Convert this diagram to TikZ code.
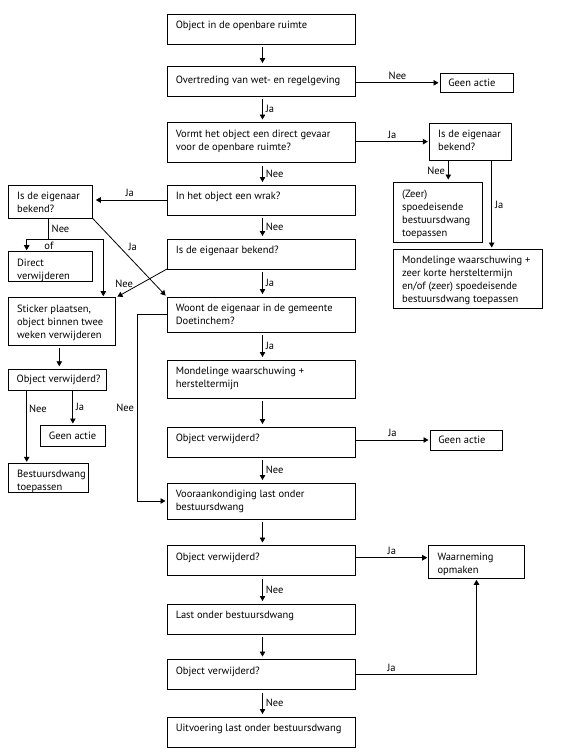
\documentclass[tikz,border=0pt]{standalone}
\usepackage{fontspec}
\setmainfont{PT Sans}
\usetikzlibrary{arrows.meta}
\newcommand\tb[4][14.5]{\parbox[c][#3pt][t]{#2pt}{\raggedright\leftskip=8.8pt\baselineskip=13pt\rule{0pt}{#1pt}#4\par}}
\newcommand\sbx[3]{\parbox[c][#2pt][c]{#1pt}{\raggedright\leftskip=8.3pt #3\par}}
\begin{document}
\begin{tikzpicture}[x=1pt,y=-1pt,font=\fontsize{10.5}{13}\selectfont,
  box/.style={draw,line width=0.8pt,anchor=north west,inner sep=0pt,outer sep=0pt},
  arr/.style={line width=0.8pt,-{Triangle[width=5.5pt,length=5pt]}},
  ln/.style={line width=0.8pt},
  vgap/.style={shorten <=3pt,shorten >=3pt},
  hgap/.style={shorten >=1.5pt},
  lab/.style={inner sep=3pt}]
\fill[white] (0,0) rectangle (566,756);
\useasboundingbox (0,0) rectangle (566,756);
% main column
\node[box] (b1) at (167,14) {\tb{188}{30}{Object in de openbare ruimte}};
\node[box] (b2) at (167,66) {\tb[17]{188}{30}{Overtreding van wet- en regelgeving}};
\node[box] (b3) at (167,122.5) {\tb{188}{40}{Vormt het object een direct gevaar\\voor de openbare ruimte?}};
\node[box] (b4) at (167,185) {\tb{188}{30}{In het object een wrak?}};
\node[box] (b5) at (167,239) {\tb{188}{30}{Is de eigenaar bekend?}};
\node[box] (b6) at (167,297) {\tb{188}{35}{Woont de eigenaar in de gemeente\\Doetinchem?}};
\node[box] (b7) at (167,360) {\tb{188}{38}{Mondelinge waarschuwing +\\hersteltermijn}};
\node[box] (b8) at (167,427) {\tb{188}{30}{Object verwijderd?}};
\node[box] (b9) at (167,483) {\tb{188}{36}{Vooraankondiging last onder\\bestuursdwang}};
\node[box] (b10) at (167,545.5) {\tb{188}{30}{Object verwijderd?}};
\node[box] (b11) at (167,604) {\tb{188}{30}{Last onder bestuursdwang}};
\node[box] (b12) at (167,659.5) {\tb{188}{30}{Object verwijderd?}};
\node[box] (b13) at (167,717) {\tb{188}{30}{Uitvoering last onder bestuursdwang}};
% right side
\node[box] (g1) at (440,73.3) {\sbx{73}{19}{Geen actie}};
\node[box] (r1) at (429.3,123.3) {\tb{82.4}{36.7}{Is de eigenaar\\bekend?}};
\node[box] (z) at (393.3,182.5) {\tb{89.4}{60}{(Zeer)\\spoedeisende\\bestuursdwang\\toepassen}};
\node[box] (m2) at (393.3,249) {\tb{149.5}{59}{Mondelinge waarschuwing +\\zeer korte hersteltermijn\\en/of (zeer) spoedeisende\\bestuursdwang toepassen}};
\node[box] (ga3) at (430,430) {\sbx{72}{20}{Geen actie}};
\node[box] (w) at (428.7,545.7) {\tb{95.6}{32.6}{Waarneming\\opmaken}};
% left side
\node[box] (l1) at (8.3,185) {\tb{84}{33}{Is de eigenaar\\bekend?}};
\node[box] (d) at (8.3,251.7) {\tb{84}{30}{Direct\\verwijderen}};
\node[box] (s) at (8.3,297.7) {\tb{107.4}{47.3}{Sticker plaatsen,\\object binnen twee\\weken verwijderen}};
\node[box] (lo) at (8.3,369.3) {\sbx{98.4}{20.7}{Object verwijderd?}};
\node[box] (ga2) at (40.7,425) {\sbx{64.3}{21}{Geen actie}};
\node[box] (bd) at (8.3,463.3) {\tb{80}{29.4}{Bestuursdwang\\toepassen}};
% main arrows
\draw[arr,vgap] ([xshift=1.5pt]b1.south) -- ([xshift=1.5pt]b2.north);
\draw[arr,vgap] ([xshift=1.5pt]b2.south) -- node[right,lab]{Ja} ([xshift=1.5pt]b3.north);
\draw[arr,vgap] ([xshift=1.5pt]b3.south) -- node[right,lab]{Nee} ([xshift=1.5pt]b4.north);
\draw[arr,vgap] ([xshift=1.5pt]b4.south) -- node[right,lab]{Nee} ([xshift=1.5pt]b5.north);
\draw[arr,vgap] ([xshift=1.5pt]b5.south) -- node[right,lab]{Ja} ([xshift=1.5pt]b6.north);
\draw[arr,vgap] ([xshift=1.5pt]b6.south) -- node[right,lab]{Ja} ([xshift=1.5pt]b7.north);
\draw[arr,vgap] ([xshift=1.5pt]b7.south) -- ([xshift=1.5pt]b8.north);
\draw[arr,vgap] ([xshift=1.5pt]b8.south) -- node[right,lab]{Nee} ([xshift=1.5pt]b9.north);
\draw[arr,vgap] ([xshift=1.5pt]b9.south) -- ([xshift=1.5pt]b10.north);
\draw[arr,vgap] ([xshift=1.5pt]b10.south) -- node[right,lab]{Nee} ([xshift=1.5pt]b11.north);
\draw[arr,vgap] ([xshift=1.5pt]b11.south) -- ([xshift=1.5pt]b12.north);
\draw[arr,vgap] ([xshift=1.5pt]b12.south) -- node[right,lab]{Nee} ([xshift=1.5pt]b13.north);
% right side connectors
\draw[arr,hgap] (g1.west -| b2.east) -- node[above,lab]{Nee} (g1.west);
\draw[arr,hgap] (r1.west -| b3.east) -- node[above,lab]{Ja} (r1.west);
\draw[arr,shorten >=3pt] ([xshift=19pt]r1.south west) -- node[left,lab]{Nee} ([xshift=19pt]r1.south west |- z.north);
\draw[arr,hgap] ([xshift=-20pt]r1.south east) -- node[right,lab]{Ja} ([xshift=-20pt]r1.south east |- m2.north);
\draw[arr,hgap] (ga3.west -| b8.east) -- node[above,lab]{Ja} (ga3.west);
\draw[arr,hgap] ([yshift=2.8pt]b10.east) -- node[above,lab]{Ja} ([yshift=2.8pt]b10.east -| w.west);
\draw[arr,hgap] (b12.east) -| node[above,lab,pos=0.15]{Ja} (w.south);
% left side connectors
\draw[arr,shorten >=3.5pt] (b4.west) -- node[above,lab]{Ja} (b4.west -| l1.east);
\coordinate (jl) at (26.7,239.3);
\coordinate (jr) at (103.3,239.3);
\draw[ln] ([xshift=-2pt]l1.south) -- node[right,lab]{Nee} ([xshift=-2pt]l1.south |- jl);
\draw[ln] (jl) -- node[below,pos=0.29,inner sep=2pt]{of} (jr);
\draw[arr,hgap] (jl) -- (jl |- d.north);
\draw[arr,hgap] (jr) -- (jr |- s.north);
\draw[arr,shorten >=2pt] (l1.south east) -- node[right,lab,pos=0.36,xshift=6pt]{Ja} (b6.north west);
\draw[arr,shorten >=2pt] (b5.south west) -- node[left,lab,pos=0.5,xshift=-5pt]{Nee} (s.north east);
\draw[arr,shorten <=3pt,shorten >=3pt] ([xshift=-2.7pt]s.south) -- ([xshift=-2.7pt]s.south |- lo.north);
\draw[arr,hgap] ([xshift=18.4pt]lo.south west) -- node[right,inner sep=2pt,pos=0.25]{Nee} ([xshift=18.4pt]lo.south west |- bd.north);
\draw[arr,hgap] (ga2.north |- lo.south) -- node[right,inner sep=2.5pt,pos=0.48]{Ja} (ga2.north);
\draw[arr,hgap] (b6.west) -- ([xshift=-29.7pt]b6.west) |- node[left,lab,pos=0.25]{Nee} (b9.west);
\end{tikzpicture}
\end{document}
